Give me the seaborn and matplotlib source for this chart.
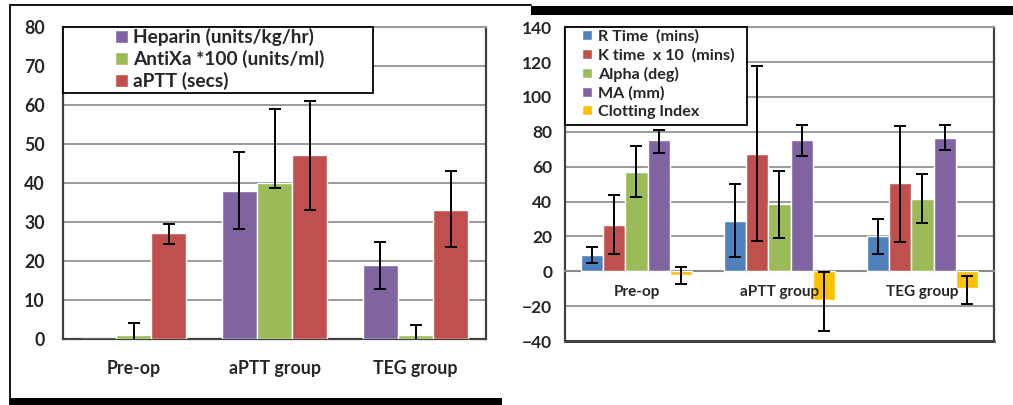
import numpy as np
import pandas as pd
import matplotlib.pyplot as plt
import seaborn as sns
from matplotlib.patches import Rectangle
from matplotlib.lines import Line2D

# ---- data ----
groups = ["Pre-op", "aPTT group", "TEG group"]

# left chart
left_series = ["Heparin (units/kg/hr)", "AntiXa *100 (units/ml)", "aPTT (secs)"]
heparin = [0, 38.0, 19.0]
heparin_lo = [np.nan, 28.3, 12.9]
heparin_hi = [np.nan, 47.9, 24.8]
antixa = [1.0, 40.0, 1.0]
antixa_lo = [-2.0, 38.8, -1.7]
antixa_hi = [4.0, 59.1, 3.6]
aptt = [27.3, 47.1, 33.2]
aptt_lo = [24.3, 33.0, 23.6]
aptt_hi = [29.6, 61.0, 43.0]

# right chart
right_series = ["R Time  (mins)", "K time  x 10  (mins)", "Alpha (deg)", "MA (mm)", "Clotting Index"]
r_time = [9.6, 29.1, 20.1]
r_lo = [4.8, 7.9, 10.1]
r_hi = [14.0, 50.2, 29.7]
k_time = [26.6, 67.4, 50.4]
k_lo = [10.0, 17.2, 16.5]
k_hi = [43.5, 117.8, 83.3]
alpha = [57.1, 38.5, 41.6]
alpha_lo = [42.7, 19.3, 27.4]
alpha_hi = [71.8, 57.6, 55.5]
ma = [75.1, 75.1, 76.6]
ma_lo = [67.6, 66.3, 69.5]
ma_hi = [80.8, 84.1, 84.1]
ci = [-1.9, -16.7, -9.6]
ci_lo = [-7.1, -34.3, -18.6]
ci_hi = [2.5, -0.6, -2.5]

left_colors = ["#8064A2", "#9BBB59", "#C0504D"]
right_colors = ["#4F81BD", "#C0504D", "#9BBB59", "#8064A2", "#FFC000"]

sns.set_style("white")
plt.rcParams['font.family'] = ['Lato', 'DejaVu Sans']
plt.rcParams['font.weight'] = 'bold'

GRID = "#9a9a9a"
SPINE = "#404040"


def long_df(series, values):
    rows = []
    for name, vals in zip(series, values):
        for g, v in zip(groups, vals):
            rows.append({"group": g, "series": name, "value": v})
    return pd.DataFrame(rows)


def draw(ax, series, means, lows, highs, colors, width):
    df = long_df(series, means)
    sns.barplot(data=df, x="group", y="value", hue="series", palette=colors,
                width=width, saturation=1, errorbar=None, ax=ax, zorder=3)
    for cont, m, lo, hi in zip(ax.containers, means, lows, highs):
        xs = [b.get_x() + b.get_width() / 2 for b in cont]
        m = np.array(m, dtype=float)
        err = np.vstack([m - np.array(lo, dtype=float), np.array(hi, dtype=float) - m])
        ax.errorbar(xs, m, yerr=err, fmt="none", ecolor="black", elinewidth=1.4,
                    capsize=4, capthick=1.4, zorder=4)
    ax.set_xlabel("")
    ax.set_ylabel("")
    ax.set_axisbelow(True)
    ax.yaxis.grid(True, color=GRID, linewidth=1.4)
    for s in ["left", "right", "bottom"]:
        ax.spines[s].set_color(SPINE)
        ax.spines[s].set_linewidth(1.6)
    ax.spines["top"].set_color(GRID)
    ax.spines["top"].set_linewidth(1.4)


fig = plt.figure(figsize=(10.13, 4.05), dpi=100)

# ---- left chart ----
ax1 = fig.add_axes([0.0622, 0.163, 0.4176, 0.770])
draw(ax1, left_series, [heparin, antixa, aptt], [heparin_lo, antixa_lo, aptt_lo],
     [heparin_hi, antixa_hi, aptt_hi], left_colors, 0.75)
ax1.set_ylim(0, 80)
ax1.set_yticks(range(0, 81, 10))
ax1.set_xlim(-0.5, 2.5)
ax1.tick_params(axis="both", length=0, labelsize=12.8)
ax1.tick_params(axis="y", pad=13)
ax1.tick_params(axis="x", pad=15)
h, l = ax1.get_legend_handles_labels()
ax1.get_legend().remove()
ax1.add_patch(Rectangle((0, 0.788), 0.733, 0.212, transform=ax1.transAxes,
                        facecolor="white", edgecolor="black", linewidth=1.3,
                        zorder=5, clip_on=False))
leg = ax1.legend(h, l, loc="upper left", bbox_to_anchor=(0.123, 0.997), frameon=False,
                 borderpad=0, borderaxespad=0, handlelength=0.68, handleheight=0.68,
                 handletextpad=0.27, labelspacing=0.2, fontsize=13.8)
leg.set_zorder(6)

# ---- right chart ----
ax2 = fig.add_axes([0.5577, 0.158, 0.4235, 0.775])
draw(ax2, right_series, [r_time, k_time, alpha, ma, ci], [r_lo, k_lo, alpha_lo, ma_lo, ci_lo],
     [r_hi, k_hi, alpha_hi, ma_hi, ci_hi], right_colors, 0.78)
ax2.set_ylim(-40, 140)
ax2.set_yticks(range(-40, 141, 20))
ax2.set_xlim(-0.5, 2.5)
ax2.spines["bottom"].set_position(("data", 0))
ax2.spines["bottom"].set_color("#8a8a8a")
ax2.spines["bottom"].set_linewidth(1.5)
ax2.plot([0, 1], [0, 0], transform=ax2.transAxes, color=SPINE, linewidth=2.2,
         clip_on=False, zorder=6)
ax2.tick_params(axis="y", length=4, width=1, color=SPINE, labelsize=12.5, pad=5)
ax2.tick_params(axis="x", which="major", length=0, labelsize=11, pad=10)
ax2.set_xticks([0.5, 1.5], minor=True)
ax2.tick_params(axis="x", which="minor", length=4, width=1, color="#8a8a8a", direction="out")
ax2.xaxis.set_zorder(4.5)  # keep category labels readable next to negative bars
h, l = ax2.get_legend_handles_labels()
ax2.get_legend().remove()
ax2.add_patch(Rectangle((0, 0.688), 0.424, 0.312, transform=ax2.transAxes,
                        facecolor="white", edgecolor="black", linewidth=1.3,
                        zorder=5, clip_on=False))
leg2 = ax2.legend(h, l, loc="upper left", bbox_to_anchor=(0.04, 0.993), frameon=False,
                  borderpad=0, borderaxespad=0, handlelength=0.62, handleheight=0.62,
                  handletextpad=0.35, labelspacing=0.26, fontsize=11.6)
leg2.set_zorder(6)

# ---- page frame decorations ----
fig.add_artist(Line2D([0.0099, 0.0099], [0, 0.988], color="black", linewidth=1.3))
fig.add_artist(Line2D([0.0099, 0.524], [0.988, 0.988], color="black", linewidth=1.3))
fig.add_artist(Rectangle((0.0099, 0), 0.4857, 0.0173, transform=fig.transFigure,
                         facecolor="black", edgecolor="none"))
fig.add_artist(Rectangle((0.524, 0.963), 0.476, 0.0222, transform=fig.transFigure,
                         facecolor="black", edgecolor="none"))

fig.savefig("out.png", dpi=100)
